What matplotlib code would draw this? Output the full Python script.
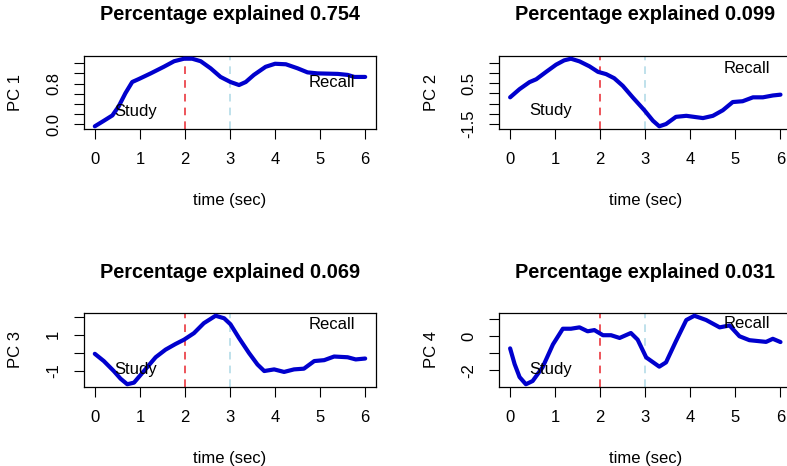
import matplotlib
matplotlib.use("agg")
import matplotlib.pyplot as plt
import numpy as np

plt.rcParams['font.family'] = ['Liberation Sans', 'DejaVu Sans']

# ---- data ----
t1 = [0, 0.2, 0.39, 0.53, 0.68, 0.83, 0.98, 1.24, 1.53, 1.76, 1.98, 2.16, 2.35, 2.57, 2.79,
      3.01, 3.2, 3.35, 3.53, 3.79, 4.0, 4.24, 4.5, 4.72, 4.94, 5.39, 5.61, 5.76, 6.0]
pc1 = [-0.045, 0.064, 0.17, 0.35, 0.61, 0.83, 0.89, 1.0, 1.13, 1.24, 1.29, 1.29, 1.24, 1.10, 0.93,
       0.83, 0.77, 0.83, 0.97, 1.13, 1.19, 1.18, 1.10, 1.02, 1.0, 0.99, 0.97, 0.93, 0.93]

t2 = [0, 0.21, 0.43, 0.58, 0.80, 1.02, 1.2, 1.35, 1.54, 1.76, 1.95, 2.13, 2.31, 2.5, 2.72,
      2.98, 3.17, 3.31, 3.46, 3.68, 3.91, 4.28, 4.5, 4.72, 4.94, 5.16, 5.39, 5.61, 5.83, 6.0]
pc2 = [-0.19, 0.21, 0.55, 0.69, 1.05, 1.40, 1.61, 1.69, 1.56, 1.32, 1.05, 0.94, 0.74, 0.37, -0.19,
       -0.82, -1.33, -1.60, -1.49, -1.14, -1.09, -1.2, -1.09, -0.82, -0.42, -0.38, -0.19, -0.19, -0.10, -0.06]

t3 = [0, 0.2, 0.42, 0.57, 0.72, 0.87, 1.09, 1.35, 1.57, 1.79, 1.98, 2.2, 2.42, 2.68, 2.87,
      3.01, 3.2, 3.42, 3.61, 3.76, 3.98, 4.2, 4.42, 4.64, 4.87, 5.09, 5.31, 5.61, 5.79, 6.0]
pc3 = [-0.05, -0.45, -1.0, -1.42, -1.73, -1.64, -1.0, -0.24, 0.18, 0.49, 0.73, 1.09, 1.64, 2.05, 1.91,
       1.58, 0.82, 0.0, -0.64, -1.0, -0.91, -1.05, -0.91, -0.87, -0.45, -0.40, -0.2, -0.24, -0.36, -0.31]

t4 = [0, 0.1, 0.21, 0.35, 0.5, 0.72, 0.95, 1.17, 1.35, 1.54, 1.72, 1.87, 2.06, 2.24, 2.43, 2.68,
      2.83, 3.02, 3.31, 3.46, 3.68, 3.91, 4.09, 4.35, 4.65, 4.87, 5.09, 5.31, 5.68, 5.83, 6.0]
pc4 = [-0.71, -1.63, -2.39, -2.81, -2.62, -1.82, -0.48, 0.44, 0.44, 0.52, 0.29, 0.36, 0.06, 0.06, -0.1, 0.19,
       -0.2, -1.24, -1.78, -1.53, -0.29, 0.95, 1.20, 0.95, 0.52, 0.63, 0.0, -0.23, -0.33, -0.15, -0.34]

explained = [0.754, 0.099, 0.069, 0.031]
yticks = [[0.0, 0.2, 0.4, 0.6, 0.8, 1.0, 1.2],
          [-1.5, -1.0, -0.5, 0.0, 0.5, 1.0, 1.5],
          [-1, 0, 1, 2],
          [-2, -1, 0, 1]]
ylabels_shown = [["0.0", "0.8"], ["-1.5", "0.5"], ["-1", "1"], ["-2", "0"]]
ylabel_values = [[0.0, 0.8], [-1.5, 0.5], [-1, 1], [-2, 0]]
study_pos = [(0.9, 0.25), (0.9, -0.85), (0.9, -0.91), (0.9, -1.92)]
recall_pos = [(5.25, 0.82), (5.25, 1.21), (5.25, 1.59), (5.25, 0.76)]
xticks = [0, 1, 2, 3, 4, 5, 6]

W, H = 787, 466
fig = plt.figure(figsize=(W / 100, H / 100), dpi=100)

# axes boxes in pixels: left, top, width, height
boxes = [(84, 56, 292, 73), (499.3, 56, 292, 73), (84, 313, 292, 74), (499.3, 313, 292, 74)]
series = [(t1, pc1), (t2, pc2), (t3, pc3), (t4, pc4)]

for i, (t, y) in enumerate(series):
    l, top, w, h = boxes[i]
    ax = fig.add_axes([l / W, 1 - (top + h) / H, w / W, h / H])
    ax.plot(t, y, color="#0000CD", lw=3.0, solid_capstyle="round",
            solid_joinstyle="round", zorder=3)
    ax.axvline(2, color="#E8262E", lw=1.1, ls=(0, (5, 4)), zorder=2)
    ax.axvline(3, color="#ADD8E6", lw=1.1, ls=(0, (5, 4)), zorder=2)

    # R style 4% padding
    ax.set_xlim(-0.24, 6.24)
    lo, hi = min(y), max(y)
    pad = 0.04 * (hi - lo)
    ax.set_ylim(lo - pad, hi + pad)

    ax.set_xticks(xticks)
    ax.set_xticklabels([str(v) for v in xticks])
    ax.set_yticks(yticks[i])
    ax.tick_params(axis="both", direction="out", length=7.5, width=0.8, labelsize=12, pad=9)
    for s in ax.spines.values():
        s.set_linewidth(0.9)

    # only some y tick labels are drawn, rotated like R
    labs = []
    for v in yticks[i]:
        labs.append(ylabels_shown[i][ylabel_values[i].index(v)] if v in ylabel_values[i] else "")
    ax.set_yticklabels(labs, rotation=90, va="center")

    ax.text(study_pos[i][0], study_pos[i][1], "Study", fontsize=12, ha="center", va="center")
    ax.text(recall_pos[i][0], recall_pos[i][1], "Recall", fontsize=12, ha="center", va="center")

    ax.set_xlabel("time (sec)", fontsize=12, va="center")
    ax.xaxis.set_label_coords(0.5, -72 / h)
    ax.set_ylabel("PC %d" % (i + 1), fontsize=12, va="center", ha="center")
    ax.yaxis.set_label_coords(-68 / w, 0.5)

    fig.text((l + w / 2) / W, 1 - (top - 41) / H, "Percentage explained %.3f" % explained[i],
             fontsize=14.3, fontweight="bold", ha="center", va="center")

fig.savefig("out.png", dpi=100)
